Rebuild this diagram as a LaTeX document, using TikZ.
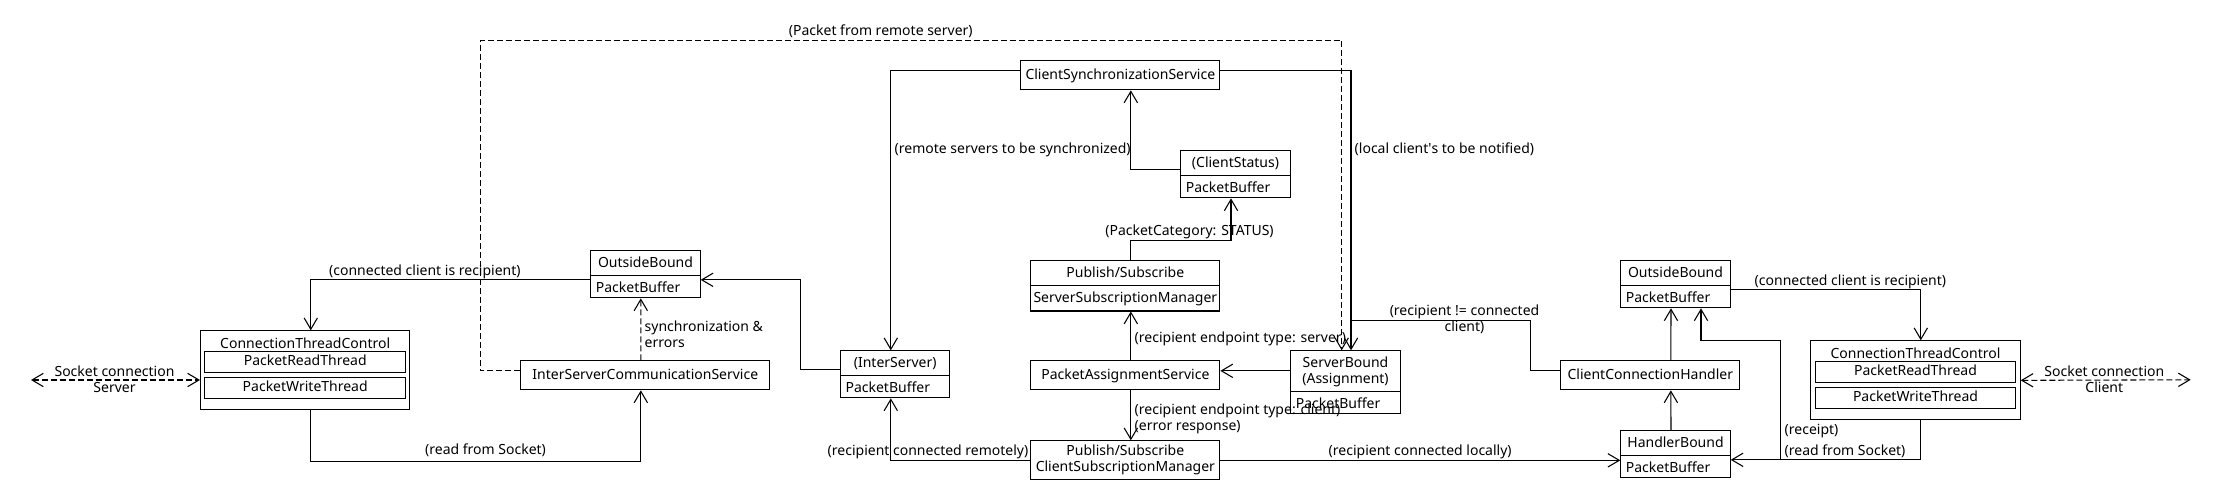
\documentclass[tikz,border=0pt]{standalone}
\usepackage{fontspec}
\setmainfont{Noto Sans}
\usetikzlibrary{arrows.meta}
\usetikzlibrary{calc}
\usetikzlibrary{positioning}
\usetikzlibrary{shapes.multipart}

\begin{document}
\begin{tikzpicture}[x=0.75pt,y=-0.75pt,line width=0.8pt,>={Straight Barb[length=8.5pt,width=10pt]},
	font=\fontsize{10.5}{12}\selectfont,
	box/.style={draw,rectangle,anchor=north west,minimum height=21.75pt,text height=8pt,text depth=2.5pt,inner sep=2pt},
	cls/.style={draw,rectangle split,rectangle split parts=2,rectangle split part align={center,left},anchor=north west,minimum width=82pt,text height=8pt,text depth=2.5pt,inner xsep=3.75pt,inner ysep=3.75pt},
	thread/.style={draw,rectangle,minimum width=150.5pt,minimum height=15.5pt,inner sep=0pt,text height=8pt,text depth=2.5pt},
	ctc/.style={draw,rectangle,anchor=north west,minimum width=157pt,minimum height=59.25pt},
	lbl/.style={inner sep=0.5pt},
	dashline/.style={dash pattern=on 4.5pt off 2.25pt}]
	\useasboundingbox (0,0) rectangle (2230,500);

		\node [ctc] (ctcL) at (200,330.3) {};
		\node [anchor=base] (ctcLtitle) at ($(ctcL.north)+(0,18.3)$) {ConnectionThreadControl};
		\node [thread,below=15.75pt of ctcL.north] (ctcLread) {PacketReadThread};
		\node [thread,below=3pt of ctcLread] (ctcLwrite) {PacketWriteThread};
		\node [cls] (obL) at (590.3,250.3) {OutsideBound \nodepart{two}PacketBuffer};
		\node [box,minimum width=186.75pt] (isc) at (520.3,360.3) {InterServerCommunicationService};
		\node [cls] (isP) at (840,350.3) {(InterServer) \nodepart{two}PacketBuffer};
		\node [box,minimum width=149.25pt] (css) at (1020.3,60.3) {ClientSynchronizationService};
		\node [cls] (cst) at (1180.3,150.3) {(ClientStatus) \nodepart{two}PacketBuffer};
		\node [cls,minimum width=141.75pt,inner xsep=2pt] (ssm) at (1030.3,260.3) {Publish/Subscribe \nodepart{two}ServerSubscriptionManager};
		\node [box,minimum width=141.75pt] (pas) at (1030.3,360.3) {PacketAssignmentService};
		\node [box,minimum width=141.75pt,minimum height=29.25pt,align=center,text height={},text depth={}] (csm) at (1030.3,440.3) {Publish/Subscribe\\ClientSubscriptionManager};
		\node [cls,align=center,text height={},text depth={}] (sbA) at (1290.3,350.3) {ServerBound\\(Assignment) \nodepart{two}PacketBuffer};
		\node [box,minimum width=134.25pt] (cch) at (1560.3,360.3) {ClientConnectionHandler};
		\node [cls] (obR) at (1620.3,260.3) {OutsideBound \nodepart{two}PacketBuffer};
		\node [cls] (hb) at (1620.3,430.3) {HandlerBound \nodepart{two}PacketBuffer};
		\node [ctc] (ctcR) at (1810.3,340.3) {};
		\node [anchor=base] (ctcRtitle) at ($(ctcR.north)+(0,18.3)$) {ConnectionThreadControl};
		\node [thread,below=15.75pt of ctcR.north] (ctcRread) {PacketReadThread};
		\node [thread,below=3pt of ctcRread] (ctcRwrite) {PacketWriteThread};

		\coordinate (sockL) at (31,380);
		\coordinate (sockR) at (2190.7,379.8);
		\coordinate (loopTL) at (480.3,40.3);
		\coordinate (rcpt) at (1780.3,460.3);

		\draw [dashline,<->] (sockL) -- (sockL -| ctcL.west);
		\draw [->] ($(obL.west)+(0,5.5)$) -| ($(ctcL.north)+(5.6,0)$);
		\draw [->] ($(ctcL.south)+(5.6,0)$) -- ++(0,51) -| ($(isc.south)+(-4.5,0)$);
		\draw [dashline,->] ($(isc.north)+(-4.5,0)$) -- ($(obL.south)+(-4.7,0)$);
		\draw [dashline,->] ($(isc.west)+(0,-4.5)$) -| (loopTL) -| ($(sbA.north)+(-3.8,0)$);
		\draw [->] ($(isP.west)+(0,-4.5)$) -- ++(-39.7,0) |- ($(obL.east)+(0,5.5)$);
		\draw [->] ($(css.west)+(0,-4.5)$) -| ($(isP.north)+(-4.4,0)$);
		\draw [->] (csm.west) -| ($(isP.south)+(-4.4,0)$);
		\draw [->] ($(cst.west)+(0,-4.5)$) -| ($(css.south)+(10.5,0)$);
		\draw [->] ($(ssm.north)+(5.5,0)$) -- ++(0,-20) -| ($(cst.south)+(-4.5,0)$);
		\draw [->] ($(pas.north)+(5.5,0)$) -- ($(ssm.south)+(5.5,0)$);
		\draw [->] ($(pas.south)+(5.5,0)$) -- ($(csm.north)+(5.5,0)$);
		\draw [->] ($(pas.east -| sbA.west)+(0,-4.5)$) -- ($(pas.east)+(0,-4.5)$);
		\draw [->] ($(css.east)+(0,-4.5)$) -| ($(sbA.north)+(5.5,0)$);
		\draw ($(cch.west)+(0,-4.5)$) -- ++(-30,0) |- ($(sbA.north)+(5.5,-30)$);
		\draw [->] ($(cch.north)+(20.5,0)$) -- ($(obR.south)+(-4.5,0)$);
		\draw [->] ($(hb.north)+(-4.5,0)$) -- ($(cch.south)+(20.5,0)$);
		\draw [->] (csm.east) -- (csm.east -| hb.west);
		\draw [->] ($(ctcR.south)+(5.3,0)$) |- ($(hb.east)+(0,5.5)$);
		\draw [->] (rcpt) -- ++(0,-120) -| ($(obR.south)+(25.5,0)$);
		\draw [->] ($(obR.east)+(0,5.5)$) -| ($(ctcR.north)+(5.3,0)$);
		\draw [dashline,<->] (ctcR.east) -- (sockR);

		\node [lbl,align=center] (lblSockSrv) at (114.5,379.3) {Socket connection\\Server};
		\node [lbl,anchor=base west] (lblSrvRcpt) at (328,275.7) {(connected client is recipient)};
		\node [lbl,anchor=base west] (lblSrvRead) at (424,454.7) {(read from Socket)};
		\node [lbl,align=left,anchor=west] (lblSync) at (643.5,333.8) {synchronization \&\\errors};
		\node [lbl,anchor=base west] (lblRemote) at (787.7,35.7) {(Packet from remote server)};
		\node [lbl,anchor=base west] (lblToSync) at (893.5,153) {(remote servers to be synchronized)};
		\node [lbl,anchor=base west] (lblNotify) at (1353.5,153) {(local client\textquotesingle s to be notified)};
		\node [lbl,anchor=base] (lblStatus) at (1189.5,235) {(PacketCategory: STATUS)};
		\node [lbl,anchor=base west] (lblServer) at (1133.5,342.3) {(recipient endpoint type: server)};
		\node [lbl,align=left,anchor=west] (lblClient) at (1133.5,419.1) {(recipient endpoint type: client)\\(error response)};
		\node [lbl,anchor=base east] (lblRemotely) at (1029.5,455) {(recipient connected remotely)};
		\node [lbl,anchor=base west] (lblLocally) at (1327.5,455) {(recipient connected locally)};
		\node [lbl,align=center] (lblNotConn) at (1464.5,319.6) {(recipient != connected\\client)};
		\node [lbl,anchor=base west] (lblReceipt) at (1783.5,434.3) {(receipt)};
		\node [lbl,anchor=base west] (lblCliRead) at (1783.5,455) {(read from Socket)};
		\node [lbl,anchor=base west] (lblCliRcpt) at (1753.5,285.7) {(connected client is recipient)};
		\node [lbl,align=center] (lblSockCli) at (2104.3,379.5) {Socket connection\\Client};
	\end{tikzpicture}
\end{document}
